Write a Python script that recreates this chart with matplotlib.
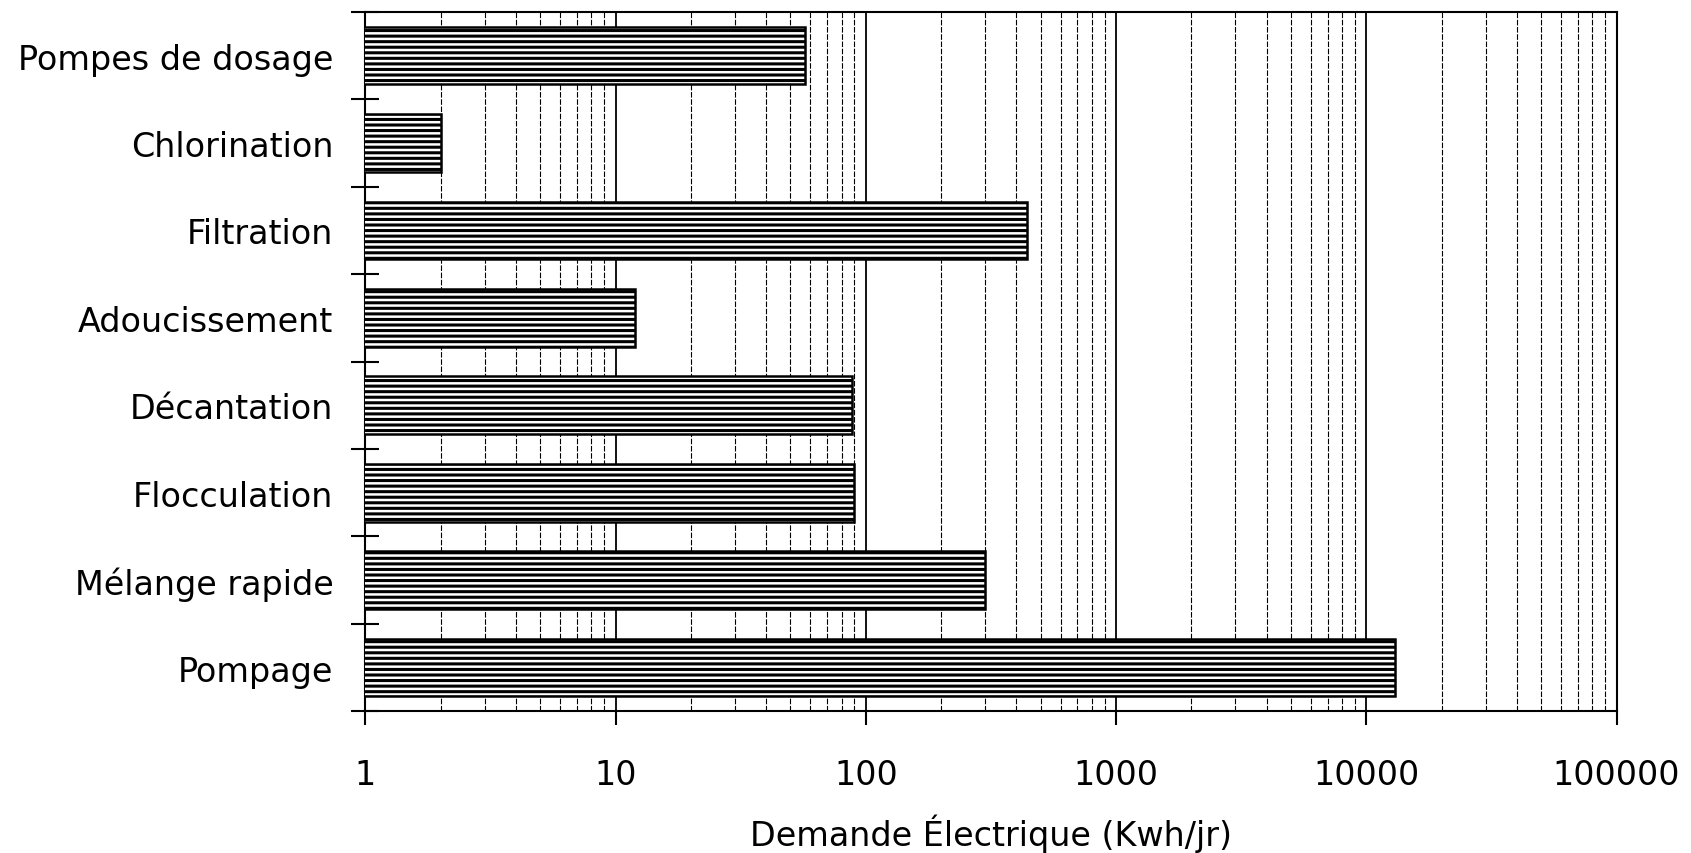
import matplotlib as mpl
import matplotlib.pyplot as plt
import numpy as np
from matplotlib.ticker import LogLocator, FixedLocator, NullFormatter

# categories bottom -> top
categories = ['Pompage', 'Mélange rapide', 'Flocculation', 'Décantation',
              'Adoucissement', 'Filtration', 'Chlorination', 'Pompes de dosage']
demand = [13000, 300, 90, 88, 12, 440, 2.0, 57]
xticks = [1, 10, 100, 1000, 10000, 100000]
xticklabels = ['1', '10', '100', '1000', '10000', '100000']

mpl.rcParams['hatch.linewidth'] = 2.2
mpl.rcParams['font.family'] = 'DejaVu Sans'

fig = plt.figure(figsize=(16.91, 8.54), dpi=100)
ax = fig.add_axes([0.216, 0.166, 0.740, 0.819])
ax.set_xscale('log')

y = np.arange(len(categories))
ax.barh(y, demand, height=0.66, color='white', edgecolor='black',
        hatch='---', linewidth=1.8, zorder=3)

ax.set_xlim(1, 100000)
ax.set_ylim(-0.5, len(categories) - 0.5)

# grid lines
ax.xaxis.set_minor_locator(LogLocator(base=10, subs=np.arange(2, 10)))
ax.xaxis.set_minor_formatter(NullFormatter())
ax.grid(True, which='minor', axis='x', color='black', linewidth=0.8,
        linestyle=(0, (5, 1.5)), zorder=1)
ax.grid(True, which='major', axis='x', color='black', linewidth=1.3, zorder=1)

ax.set_xticks(xticks)
ax.set_xticklabels(xticklabels, fontsize=24)
ax.tick_params(axis='x', which='major', direction='out', length=10, width=1.5, pad=24)
ax.tick_params(axis='x', which='minor', length=0)

# category labels at centers, tick marks at boundaries
ax.yaxis.set_major_locator(FixedLocator(y))
ax.set_yticklabels(categories, fontsize=24)
ax.tick_params(axis='y', which='major', length=0, pad=23)
ax.yaxis.set_minor_locator(FixedLocator(np.arange(-0.5, len(categories), 1.0)))
ax.tick_params(axis='y', which='minor', direction='inout', length=20, width=1.5)

for s in ax.spines.values():
    s.set_linewidth(1.5)

ax.set_xlabel('Demande Électrique (Kwh/jr)', fontsize=24, labelpad=16)

plt.savefig('out.png', dpi=100)
